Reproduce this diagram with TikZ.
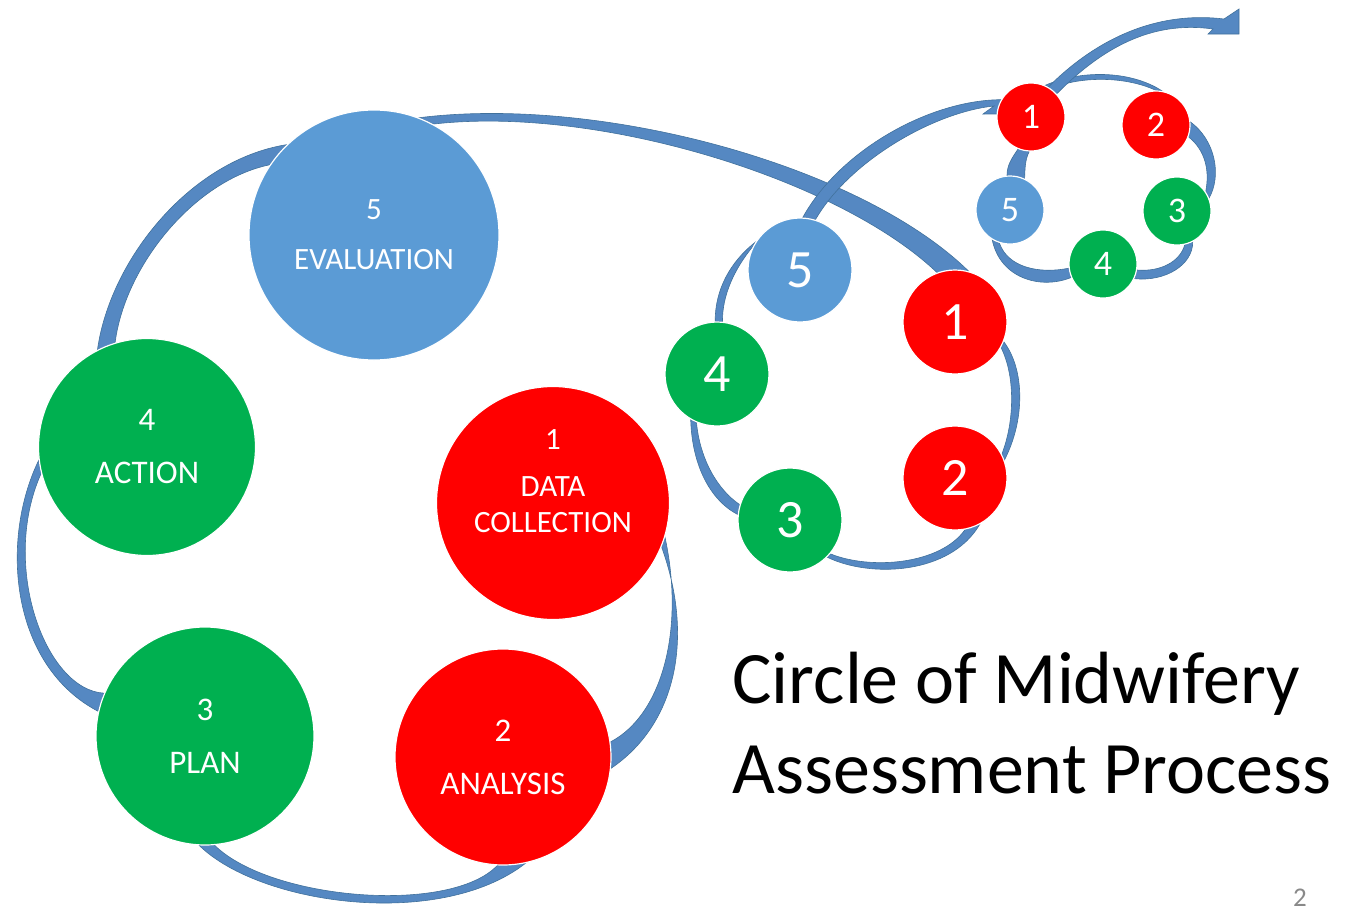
\documentclass[tikz,border=0pt]{standalone}
\usepackage{fontspec}
\setmainfont{Carlito}
\usetikzlibrary{positioning}
\definecolor{stepred}{HTML}{FF0000}
\definecolor{stepgreen}{HTML}{00B050}
\definecolor{stepblue}{HTML}{5B9BD5}
\definecolor{ribbonfill}{HTML}{5588C2}
\definecolor{ribbonedge}{HTML}{41719C}
\definecolor{pagegray}{HTML}{898989}
\pgfdeclarelayer{back}
\pgfsetlayers{back,main}

\begin{document}
\begin{tikzpicture}[x=1pt,y=-1pt,
    stage/.style={circle,draw=white,line width=1.2pt,text=white,align=center,inner sep=0pt},
    big/.style={stage,font=\fontsize{31}{36}\selectfont},
    bigger/.style={stage,font=\fontsize{33}{36}\selectfont},
    mid/.style={stage,minimum size=104pt,font=\fontsize{54}{54}\selectfont},
    small/.style={stage,minimum size=68pt,font=\fontsize{36}{36}\selectfont},
    ribbon/.style={fill=ribbonfill,draw=ribbonedge,line width=0.6pt},
    title/.style={anchor=base west,font=\fontsize{74}{90}\selectfont}]

    \useasboundingbox (0,0) rectangle (1366,913);

    % big circle
    \node[big,fill=stepblue,minimum size=250pt] (eval) at (374,235) {5\\[14pt]EVALUATION};
    \node[big,fill=stepred,minimum size=233pt] (data) at (553,503) {1\\[11pt]DATA\\COLLECTION\\[8pt]~};
    \node[bigger,fill=stepred,minimum size=216pt] (analysis) at (503,757) {2\\[17pt]ANALYSIS};
    \node[bigger,fill=stepgreen,minimum size=218pt] (plan) at (205,736) {3\\[17pt]PLAN};
    \node[bigger,fill=stepgreen,minimum size=217pt] (action) at (147,447) {4\\[17pt]ACTION};

    % middle circle
    \node[mid,fill=stepred] (m1) at (955,322) {1};
    \node[mid,fill=stepred] (m2) at (955,478) {2};
    \node[mid,fill=stepgreen] (m3) at (790,520) {3};
    \node[mid,fill=stepgreen] (m4) at (717,374) {4};
    \node[mid,fill=stepblue] (m5) at (800,270) {5};

    % small circle
    \node[small,fill=stepred] (s1) at (1031,117) {1};
    \node[small,fill=stepred] (s2) at (1156,125) {2};
    \node[small,fill=stepgreen] (s3) at (1177,211) {3};
    \node[small,fill=stepgreen] (s4) at (1103,264) {4};
    \node[small,fill=stepblue] (s5) at (1010,210) {5};
    \coordinate (exit) at (1239,9);

    \node[title] (title1) at (729,703) {Circle of Midwifery};
    \node[title] (title2) at (729,793) {Assessment Process};
    \node[anchor=base,inner sep=0pt,text=pagegray,font=\fontsize{27}{27}\selectfont] (pagenum) at (1300,906) {2};

    \begin{pgfonlayer}{back}
    % big loop
    \path[ribbon] (eval.134) .. controls (190,160) and (110,260) .. (action.117)
        -- (action.107) .. controls (125,265) and (195,180) .. (eval.146) -- cycle;
    \path[ribbon] (action.187) .. controls (0,540) and (10,665) .. (plan.167)
        -- (plan.157) .. controls (45,690) and (0,565) .. (action.194) -- cycle;
    \path[ribbon] (plan.267) .. controls (260,905) and (440,930) .. (analysis.282)
        -- (analysis.267) .. controls (450,915) and (270,900) .. (plan.275) -- cycle;
    \path[ribbon] (data.-22) .. controls (695,640) and (675,725) .. (analysis.-6)
        -- (analysis.8) .. controls (662,715) and (685,630) .. (data.-17) -- cycle;
    \path[ribbon] (eval.69) .. controls (600,95) and (860,165) .. (m1.75)
        -- (m1.110) .. controls (840,180) and (600,105) .. (eval.62) -- cycle;

    % middle loop
    \path[ribbon] (m5.148) .. controls (730,262) and (715,290) .. (m4.92)
        -- (m4.84) .. controls (722,295) and (735,268) .. (m5.153) -- cycle;
    \path[ribbon] (m4.240) .. controls (692,465) and (710,500) .. (m3.174)
        -- (m3.163) .. controls (718,490) and (700,460) .. (m4.247) -- cycle;
    \path[ribbon] (m3.315) .. controls (870,578) and (950,575) .. (m2.298)
        -- (m2.281) .. controls (940,565) and (870,570) .. (m3.320) -- cycle;
    \path[ribbon] (m2.20) .. controls (1025,420) and (1025,370) .. (m1.-22)
        -- (m1.-29) .. controls (1015,375) and (1015,420) .. (m2.27) -- cycle;
    \path[ribbon] (m5.87) .. controls (840,150) and (930,100) .. (s1.150)
        -- (s1.175) -- (983,114) -- (994,106) .. controls (935,112) and (850,160) .. (m5.73) -- cycle;

    % small loop
    \path[ribbon] (s1.66) .. controls (1080,70) and (1130,70) .. (s2.80)
        -- (s2.90) .. controls (1125,76) and (1080,76) .. (s1.55) -- cycle;
    \path[ribbon] (s2.5) .. controls (1215,140) and (1222,175) .. (s3.22)
        -- (s3.34) .. controls (1210,170) and (1205,150) .. (s2.-20) -- cycle;
    \path[ribbon] (s3.-63) .. controls (1193,265) and (1165,282) .. (s4.-25)
        -- (s4.-10) .. controls (1160,272) and (1180,262) .. (s3.-77) -- cycle;
    \path[ribbon] (s4.203) .. controls (1040,290) and (1000,278) .. (s5.239)
        -- (s5.252) .. controls (1008,268) and (1040,274) .. (s4.187) -- cycle;
    \path[ribbon] (s5.95) .. controls (1007,165) and (1012,158) .. (s1.-112)
        -- (s1.-93) .. controls (1025,160) and (1025,168) .. (s5.65) -- cycle;
    \path[ribbon] (s1.60) .. controls (1090,45) and (1150,10) .. (1224,19)
        -- (exit) -- ++(0,25) -- ++(-31,0) -- ++(5,-5)
        .. controls (1150,20) and (1100,50) .. (s1.42) -- cycle;
    \end{pgfonlayer}
\end{tikzpicture}
\end{document}
